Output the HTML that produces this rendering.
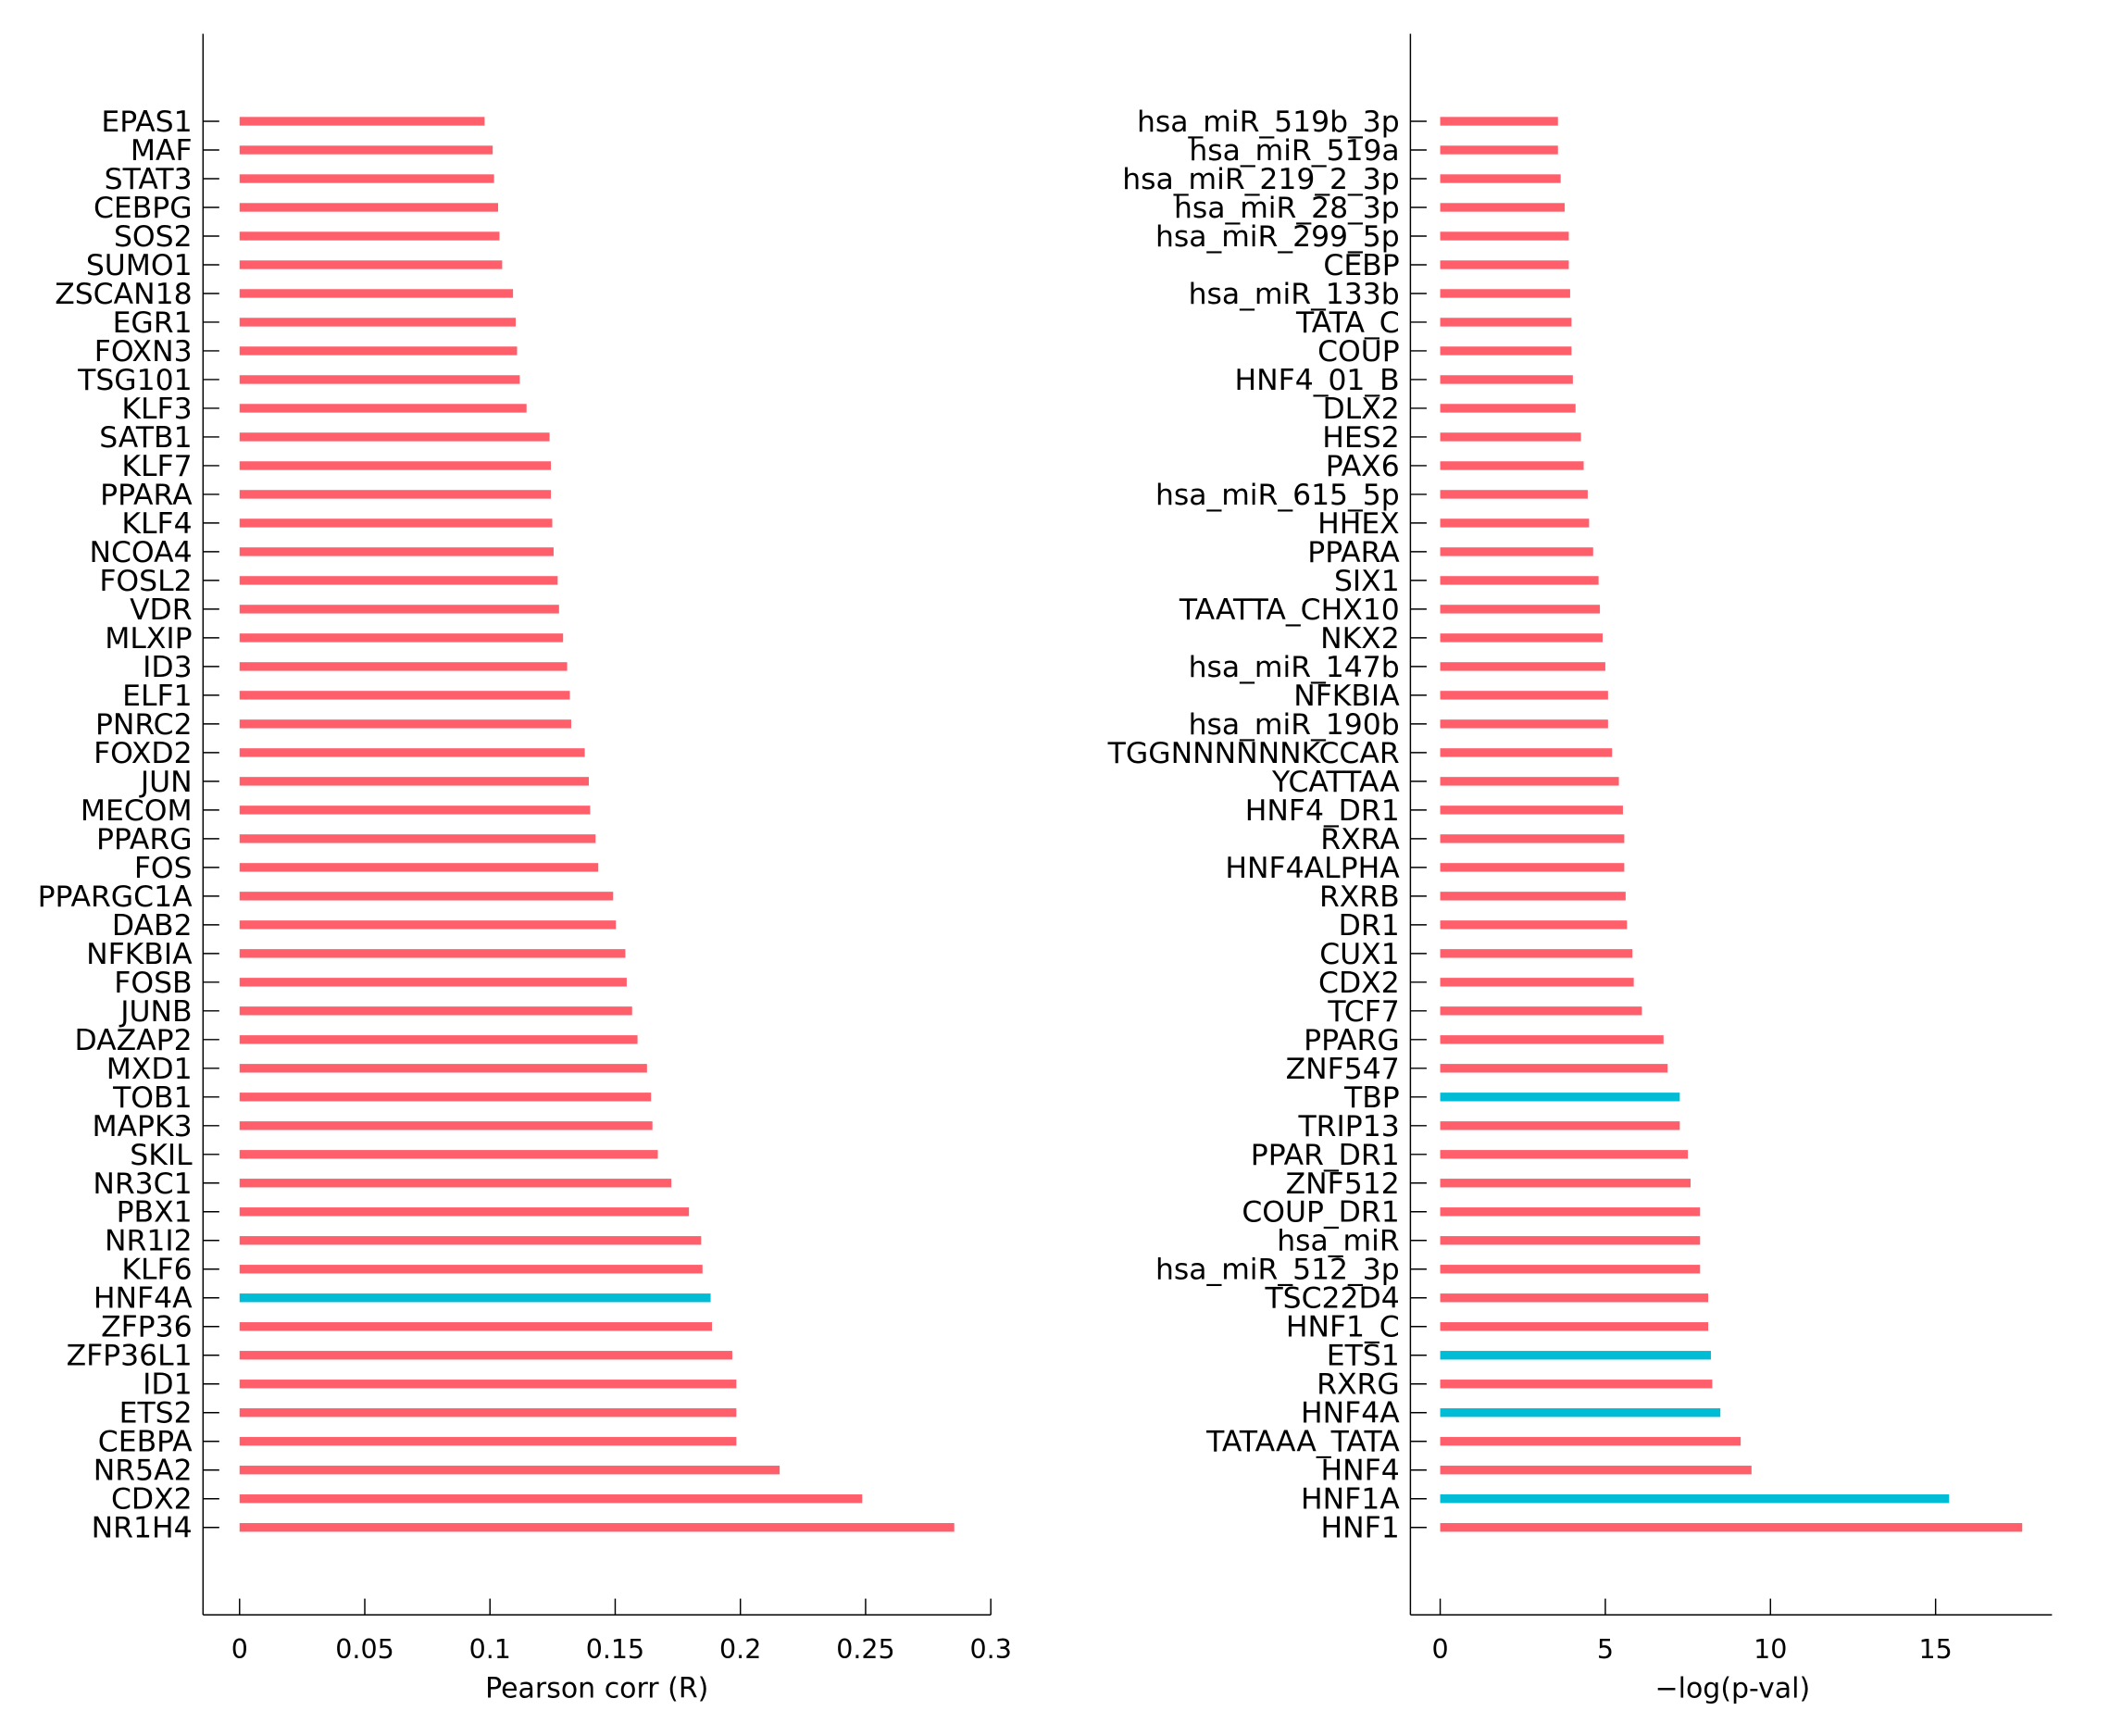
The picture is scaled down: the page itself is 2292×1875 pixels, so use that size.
<!DOCTYPE html>
<html><head><meta charset="utf-8"><style>html,body{margin:0;padding:0;background:#fff}svg{display:block}</style></head>
<body>
<svg width="2292" height="1875" xmlns="http://www.w3.org/2000/svg">
<g transform="scale(1.462)" font-family="'DejaVu Sans','Liberation Sans',sans-serif" font-size="21.5" fill="#000">
<g id="L"></g><g id="R"></g>
</g>
<script>
var ns="http://www.w3.org/2000/svg";
function el(p,t,a,txt){var e=document.createElementNS(ns,t);for(var k in a)e.setAttribute(k,a[k]);if(txt!==undefined)e.textContent=txt;p.appendChild(e);return e;}
var red="#ff5e6b",cyan="#00bcd4";
function panel(g,ax,x0,xEnd,unit,ticks,tickLbl,labels,ends,cyans,title,titleX){
 el(g,"line",{x1:ax,y1:25,x2:ax,y2:1193,stroke:"#000","stroke-width":1});
 el(g,"line",{x1:ax,y1:1193,x2:xEnd,y2:1193,stroke:"#000","stroke-width":1});
 ticks.forEach(function(t,i){var x=x0+t*unit;el(g,"line",{x1:x,y1:1193,x2:x,y2:1181,stroke:"#000","stroke-width":1});
  el(g,"text",{x:x,y:1225,"text-anchor":"middle","font-size":19.5},tickLbl[i]);});
 el(g,"text",{x:titleX,y:1254,"text-anchor":"middle","font-size":20.5},title);
 labels.forEach(function(l,i){var y=89.6+i*21.2;
  el(g,"line",{x1:ax,y1:y,x2:ax+12,y2:y,stroke:"#000","stroke-width":1});
  el(g,"rect",{x:x0,y:y-3.2,width:ends[i]-x0,height:6.4,fill:cyans.indexOf(i)>=0?cyan:red});
  el(g,"text",{x:ax-8,y:y+7.5,"text-anchor":"end"},l);});
}
var L1="EPAS1 MAF STAT3 CEBPG SOS2 SUMO1 ZSCAN18 EGR1 FOXN3 TSG101 KLF3 SATB1 KLF7 PPARA KLF4 NCOA4 FOSL2 VDR MLXIP ID3 ELF1 PNRC2 FOXD2 JUN MECOM PPARG FOS PPARGC1A DAB2 NFKBIA FOSB JUNB DAZAP2 MXD1 TOB1 MAPK3 SKIL NR3C1 PBX1 NR1I2 KLF6 HNF4A ZFP36 ZFP36L1 ID1 ETS2 CEBPA NR5A2 CDX2 NR1H4".split(" ");
var E1=[358,364,365,368,369,371,379,381,382,384,389,406,407,407,408,409,412,413,416,419,421,422,432,435,436,440,442,453,455,462,463,467,471,478,481,482,486,496,509,518,519,525,526,541,544,544,544,576,637,705];
var L2="hsa_miR_519b_3p hsa_miR_519a hsa_miR_219_2_3p hsa_miR_28_3p hsa_miR_299_5p CEBP hsa_miR_133b TATA_C COUP HNF4_01_B DLX2 HES2 PAX6 hsa_miR_615_5p HHEX PPARA SIX1 TAATTA_CHX10 NKX2 hsa_miR_147b NFKBIA hsa_miR_190b TGGNNNNNNKCCAR YCATTAA HNF4_DR1 RXRA HNF4ALPHA RXRB DR1 CUX1 CDX2 TCF7 PPARG ZNF547 TBP TRIP13 PPAR_DR1 ZNF512 COUP_DR1 hsa_miR hsa_miR_512_3p TSC22D4 HNF1_C ETS1 RXRG HNF4A TATAAA_TATA HNF4 HNF1A HNF1".split(" ");
var E2=[1151,1151,1153,1156,1159,1159,1160,1161,1161,1162,1164,1168,1170,1173,1174,1177,1181,1182,1184,1186,1188,1188,1191,1196,1199,1200,1200,1201,1202,1206,1207,1213,1229,1232,1241,1241,1247,1249,1256,1256,1256,1262,1262,1264,1265,1271,1286,1294,1440,1494];
panel(document.getElementById("L"),150,177,732,1850,[0,0.05,0.1,0.15,0.2,0.25,0.3],["0","0.05","0.1","0.15","0.2","0.25","0.3"],L1,E1,[41],"Pearson corr (R)",441);
panel(document.getElementById("R"),1042,1064,1516,24.4,[0,5,10,15],["0","5","10","15"],L2,E2,[34,43,45,48],"\u2212log(p-val)",1280);
</script>
</svg>
</body></html>
